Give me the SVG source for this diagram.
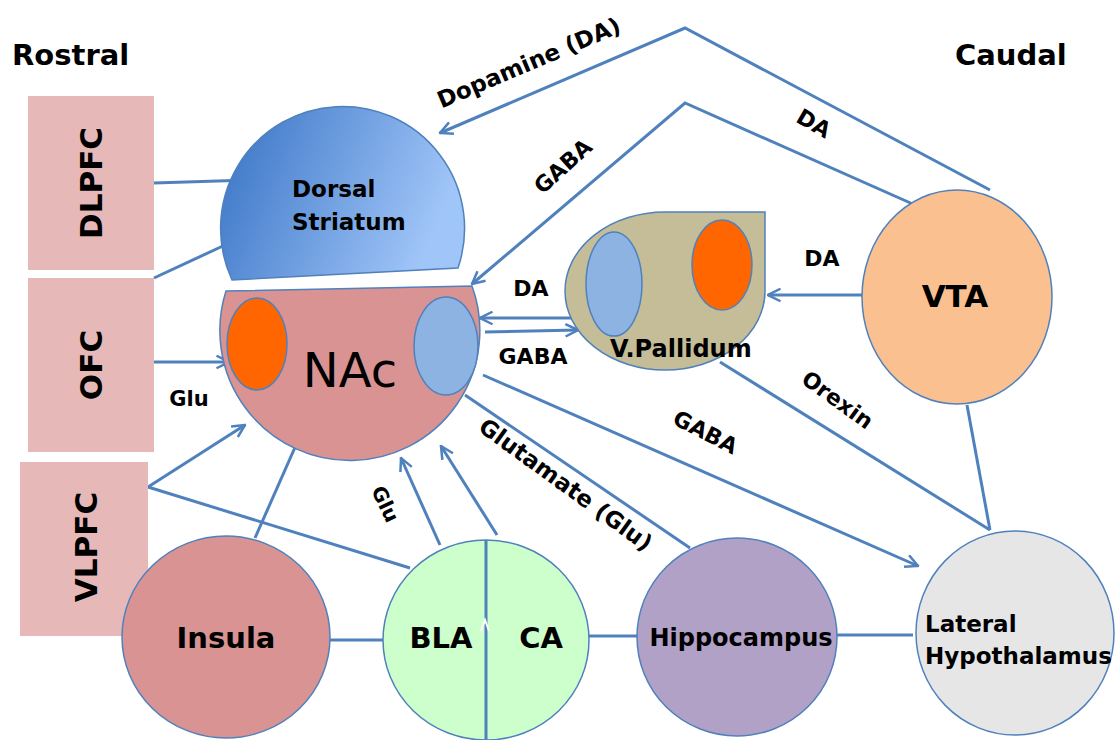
<svg xmlns="http://www.w3.org/2000/svg" width="1118" height="740" viewBox="0 0 1118 740">
<defs>
<style>
.t{font-family:"DejaVu Sans","Liberation Sans",sans-serif;font-weight:bold;fill:#000}
.l{font-size:22px}
.c{stroke:#4f81bd;stroke-width:3;fill:none}
.n{stroke:#4f81bd;stroke-width:1.5}
.box{fill:#e6b9b8}
</style>
<linearGradient id="gDS" x1="0" y1="0" x2="1" y2="0.3">
<stop offset="0" stop-color="#3672c4"/>
<stop offset="1" stop-color="#a0c5f8"/>
</linearGradient>
<marker id="ah" viewBox="0 0 12 12" refX="11" refY="6" markerWidth="15" markerHeight="15" markerUnits="userSpaceOnUse" orient="auto">
<path d="M1,1 L11,6 L1,11" fill="none" stroke="#4f81bd" stroke-width="2"/>
</marker>
</defs>
<rect width="1118" height="740" fill="#fff"/>
<text class="t" x="12" y="65" font-size="29">Rostral</text>
<text class="t" x="955" y="65" font-size="29">Caudal</text>

<g id="connectors">
<polyline class="c" points="990,190 685,28 440,133" marker-end="url(#ah)"/>
<polyline class="c" points="915,205 685,103 472,284" marker-end="url(#ah)"/>
<line class="c" x1="578" y1="318" x2="480" y2="318" marker-end="url(#ah)"/>
<line class="c" x1="485" y1="332" x2="578" y2="330" marker-end="url(#ah)"/>
<line class="c" x1="862" y1="295" x2="768" y2="295" marker-end="url(#ah)"/>
<line class="c" x1="720" y1="362" x2="990" y2="530"/>
<line class="c" x1="967" y1="405" x2="990" y2="530"/>
<line class="c" x1="483" y1="375" x2="918" y2="566" marker-end="url(#ah)"/>
<line class="c" x1="465" y1="395" x2="690" y2="548"/>
<line class="c" x1="440" y1="545" x2="401" y2="458" marker-end="url(#ah)"/>
<line class="c" x1="497" y1="535" x2="441" y2="446" marker-end="url(#ah)"/>
<line class="c" x1="255" y1="538" x2="300" y2="436"/>
<line class="c" x1="148" y1="487" x2="245" y2="425" marker-end="url(#ah)"/>
<line class="c" x1="148" y1="487" x2="410" y2="568"/>
<line class="c" x1="140" y1="362" x2="229" y2="362" marker-end="url(#ah)"/>
<line class="c" x1="154" y1="183" x2="250" y2="180"/>
<line class="c" x1="154" y1="278" x2="225" y2="245"/>
<line class="c" x1="330" y1="640" x2="384" y2="640"/>
<line class="c" x1="589" y1="636" x2="638" y2="636"/>
<line class="c" x1="837" y1="635" x2="913" y2="635"/>
</g>

<g id="labels">
<text class="t" font-size="23" text-anchor="middle" transform="translate(532,70) rotate(-23)">Dopamine (DA)</text>
<text class="t l" text-anchor="middle" transform="translate(810,130) rotate(30)">DA</text>
<text class="t l" text-anchor="middle" transform="translate(568,172) rotate(-42)">GABA</text>
<text class="t l" text-anchor="middle" x="531" y="296">DA</text>
<text class="t l" text-anchor="middle" x="533" y="364">GABA</text>
<text class="t l" text-anchor="middle" x="822" y="266">DA</text>
<text class="t l" text-anchor="middle" transform="translate(833,406) rotate(36)">Orexin</text>
<text class="t l" text-anchor="middle" transform="translate(702,439) rotate(27)">GABA</text>
<text class="t" font-size="23" text-anchor="middle" transform="translate(561,491) rotate(36)">Glutamate (Glu)</text>
<text class="t" font-size="20" text-anchor="middle" transform="translate(379,507) rotate(65)">Glu</text>
<text class="t" font-size="21" text-anchor="middle" x="189" y="406">Glu</text>
</g>

<g id="DLPFC">
<rect class="box" x="28" y="96" width="126" height="174"/>
<text class="t" font-size="31" text-anchor="middle" transform="translate(102,183) rotate(-90)">DLPFC</text>
</g>
<g id="OFC">
<rect class="box" x="28" y="278" width="126" height="174"/>
<text class="t" font-size="31" text-anchor="middle" transform="translate(102,365) rotate(-90)">OFC</text>
</g>
<g id="VLPFC">
<rect class="box" x="20" y="462" width="128" height="174"/>
<text class="t" font-size="31" text-anchor="middle" transform="translate(97,547) rotate(-90)">VLPFC</text>
</g>

<g id="DorsalStriatum">
<path class="n" d="M232 280 A122 122 0 1 1 458 268 Z" fill="url(#gDS)"/>
<text class="t" font-size="23" x="292" y="197">Dorsal</text>
<text class="t" font-size="23" x="292" y="230">Striatum</text>
</g>

<g id="NAc">
<path class="n" d="M226 291 L472 286 A130 130 0 1 1 226 291 Z" fill="#d99392"/>
<ellipse class="n" cx="257" cy="344" rx="30" ry="46" fill="#ff6600"/>
<ellipse class="n" cx="446" cy="346" rx="32" ry="49" fill="#8db3e2"/>
<text x="350" y="387" text-anchor="middle" font-family="'DejaVu Sans','Liberation Sans',sans-serif" font-size="48" fill="#000">NAc</text>
</g>

<g id="VPallidum">
<path class="n" d="M665 212 L765 212 L765 291 A100 79 0 0 1 665 370 A100 79 0 0 1 565 291 A100 79 0 0 1 665 212 Z" fill="#c4bd97"/>
<ellipse class="n" cx="614" cy="284" rx="28" ry="52" fill="#8db3e2"/>
<ellipse class="n" cx="722" cy="265" rx="30" ry="45" fill="#ff6600"/>
<text class="t" font-size="24" x="610" y="357">V.Pallidum</text>
</g>

<g id="VTA">
<ellipse class="n" cx="957" cy="297" rx="95" ry="107" fill="#fac090"/>
<text class="t" font-size="31" text-anchor="middle" x="955" y="307">VTA</text>
</g>

<g id="Insula">
<ellipse class="n" cx="226" cy="637" rx="104" ry="101" fill="#d99392"/>
<text class="t" font-size="29" text-anchor="middle" x="226" y="648">Insula</text>
</g>

<g id="BLA_CA">
<ellipse class="n" cx="486" cy="640" rx="103" ry="100" fill="#ccffcc"/>
<line x1="486" y1="540" x2="486" y2="740" stroke="#4f81bd" stroke-width="3"/>
<polyline points="481,631 485,620 489,631" fill="none" stroke="#fff" stroke-width="2"/>
<text class="t" font-size="29" text-anchor="middle" x="441" y="648">BLA</text>
<text class="t" font-size="29" text-anchor="middle" x="541" y="648">CA</text>
</g>

<g id="Hippocampus">
<ellipse class="n" cx="737" cy="637" rx="100" ry="99" fill="#b2a1c7"/>
<text class="t" font-size="24" text-anchor="middle" x="741" y="646">Hippocampus</text>
</g>

<g id="LateralHypothalamus">
<ellipse class="n" cx="1015" cy="633" rx="99" ry="102" fill="#e6e6e6"/>
<text class="t" font-size="23" x="925" y="632">Lateral</text>
<text class="t" font-size="23" x="925" y="664">Hypothalamus</text>
</g>
</svg>
